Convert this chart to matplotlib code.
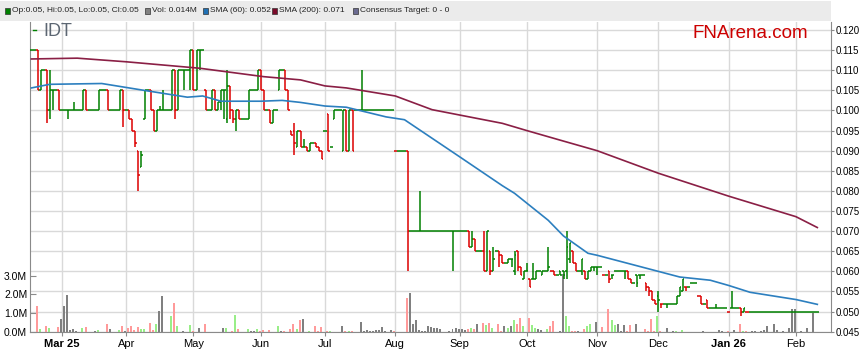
import numpy as np
import pandas as pd
import matplotlib
matplotlib.use("Agg")
import matplotlib.pyplot as plt
import matplotlib.transforms as mtransforms
from matplotlib.collections import LineCollection
from matplotlib.lines import Line2D
from matplotlib.patches import Rectangle
from matplotlib import font_manager

W, H = 859, 363
plt.rcParams['font.family'] = ['Liberation Sans', 'DejaVu Sans']

first_day = "2025-02-17"   # trading days (weekdays) from here

# daily prices in 0.001 units
open_ = [115,115,115,105,110,110,100,105,105,105,
         100,100,100,100,100,100,100,100,105,100,
         100,100,100,105,105,105,100,100,100,100,
         105,100,100,98,95,90,86,98,105,105,
         100,95,100,100,100,100,100,110,100,110,
         110,110,110,115,105,115,115,105,100,100,
         105,100,102,105,98,106,100,98,100,98,
         98,98,105,105,105,110,105,100,100,97,
         100,105,110,110,105,95,95,91,95,91,
         91,90,92,92,91,90,95,99,91,98,
         100,100,90,100,90,100,100,100,100,100,
         100,100,100,100,100,100,100,100,100,90,
         90,90,90,90,70,70,70,70,70,70,
         70,70,70,70,70,70,70,70,70,70,
         70,70,70,70,66,68,65,65,65,60,
         65,60,65,65,64,62,62,63,60,65,
         61,58,60,58,58,58,60,59,60,60,
         60,60,59,60,60,60,63,65,62,60,
         60,60,58,60,61,61,61,59,59,60,
         59,60,60,60,60,60,58,57,59,59,
         59,57,56,55,53,54,52,52,52,52,
         52,52,54,55,56,56,57,57,54,54,
         52,53,51,51,51,51,51,51,50,51,
         51,51,51,50,50,50,50,50,50,50,
         50,50,50,50,50,50,50,50,50,50,
         50,50,50,50,50,50,50,50]
high = [115,115,115,110,110,110,110,105,105,105,
        100,100,100,100,102,100,100,105,105,100,
        100,100,105,105,105,105,100,100,100,105,
        105,100,100,98,95,90,90,105,105,105,
        100,100,101,105,100,100,110,110,110,110,
        110,110,115,115,115,115,115,105,100,105,
        105,102,105,105,110,106,100,100,100,98,
        98,105,105,105,110,110,105,100,100,100,
        100,110,110,110,105,95,97,95,95,93,
        91,92,92,92,91,90,95,99,91,100,
        100,100,100,100,100,100,100,100,110,100,
        100,100,100,100,100,100,100,100,100,90,
        90,90,90,90,70,70,70,80,70,70,
        70,70,70,70,70,70,70,70,70,70,
        70,70,70,70,70,68,65,65,70,70,
        65,66,65,65,64,62,63,63,65,65,
        61,60,62,58,62,60,60,60,60,66,
        60,60,59,60,60,70,67,65,62,60,
        63,60,60,61,61,61,61,59,59,60,
        59,60,60,60,60,60,58,57,59,59,
        59,57,56,55,53,55,52,52,52,52,
        52,54,56,58,56,56,57,57,54,54,
        52,53,51,51,52,51,51,51,50,55,
        51,51,51,51,50,50,50,50,50,50,
        50,50,50,50,50,50,50,50,50,50,
        50,50,50,50,50,50,50,50]
low = [115,115,105,105,110,97,98,100,105,100,
       100,100,98,100,100,100,100,100,100,100,
       100,100,100,105,105,100,100,100,100,100,
       96,100,98,95,91,80,86,98,105,100,
       95,95,100,100,100,100,100,98,100,110,
       105,110,105,105,105,110,115,100,100,100,
       100,100,100,98,97,98,97,95,98,98,
       98,98,105,105,105,105,100,100,97,97,
       100,105,110,105,100,94,89,91,91,91,
       90,90,92,91,90,88,95,90,91,98,
       100,100,90,90,90,90,100,100,100,100,
       100,100,100,100,100,100,100,100,100,90,
       90,90,90,60,70,70,70,70,70,70,
       70,70,70,70,70,70,70,70,60,70,
       70,70,70,66,66,65,65,65,60,60,
       59,60,65,61,62,62,62,61,59,60,
       59,58,60,56,58,58,60,59,60,60,
       60,59,59,59,58,58,62,62,60,60,
       59,58,58,60,60,59,61,59,59,57,
       58,60,60,60,58,58,57,57,56,58,
       59,55,54,53,52,50,51,52,51,52,
       52,52,54,55,55,56,57,57,54,52,
       52,51,51,51,51,51,51,51,50,51,
       51,51,49,50,50,50,50,50,50,50,
       50,50,50,50,50,50,50,50,50,50,
       50,50,50,50,50,50,50,50]
close = [115,115,105,110,110,100,105,105,105,100,
         100,100,100,100,100,100,100,105,100,100,
         100,100,105,105,105,100,100,100,100,105,
         100,100,98,95,92,84,89,105,105,100,
         95,100,100,100,100,100,110,100,110,110,
         110,110,115,105,115,115,115,100,100,105,
         100,102,105,105,106,100,98,100,98,98,
         98,105,105,105,110,105,100,100,97,100,
         100,110,110,105,100,94,92,95,91,91,
         90,92,92,91,90,88,95,90,91,100,
         100,100,100,90,100,90,100,100,100,100,
         100,100,100,100,100,100,100,100,100,90,
         90,90,90,70,70,70,70,70,70,70,
         70,70,70,70,70,70,70,70,70,70,
         70,70,70,66,68,65,65,65,60,70,
         60,63,65,64,62,62,63,63,64,61,
         59,60,60,56,58,60,60,60,60,61,
         60,59,59,59,59,66,67,62,60,60,
         63,58,60,61,61,61,61,59,59,58,
         59,60,60,60,60,58,57,57,57,59,
         59,56,55,53,52,53,52,52,52,52,
         52,54,56,58,56,56,57,57,54,52,
         52,51,51,51,51,51,51,51,50,51,
         51,51,50,51,50,50,50,50,50,50,
         50,50,50,50,50,50,50,50,50,50,
         50,50,50,50,50,50,50,50]
# volume in millions
volume = [0.04,0,1.37,0.17,0,0.32,0.2,0,0,0.28,
          0.7,1.4,1.95,0.1,0.18,0.05,0,0.22,0.27,0,
          0,0.06,0.13,0,0,0.45,0.18,0,0,0.12,
          0.32,0.04,0.2,0.32,0.12,0.27,0.14,0.18,0,0.5,
          0.1,0.45,1.13,1.9,0,0,0.87,1.52,0.34,0,
          0.05,0,0.38,0.05,0,0.2,0,0.45,0,0,
          0,0,0,0.2,0.2,0,0.04,0.93,0.14,0,
          0,0.18,0.04,0.05,0.14,0.04,0.08,0,0.12,0,
          0,0.32,0.04,0.04,0,0.17,0.45,0.17,0.66,0.71,
          0,0.06,0,0.3,0.06,0.27,0,0.06,0.03,0,
          0,0,0.32,0.04,0.05,0.03,0,0,0.55,0.05,
          0.1,0.07,0.05,0.1,0.1,0.28,0.05,0,0.12,0.04,
          0,0,0,1.8,2.1,0.43,0.66,0.1,0.07,0.04,
          0.3,0.28,0.23,0.23,0.15,0,0,0.04,0.15,0.2,
          0.17,0.17,0.1,0.15,0.2,0.15,0.45,0,0.5,0.35,
          0.5,0.2,0,0.45,0.05,0.3,0.2,0.3,0.62,0.4,
          0.75,0.3,0,0.75,0.35,0.2,0.15,0.12,0,0.18,
          0.3,0.6,0,0.05,3.1,0.85,0.3,0.05,0.04,0.04,
          0,0.17,0.3,0.43,0,0.55,0,0.27,0,1.22,
          0.62,0.35,0.43,0.05,0.35,0.05,0.35,0,0.43,0,
          0,0.17,0.05,0.68,0.05,0.85,0.03,0,0.22,0,
          0.03,0.03,0,0.08,0,0,0,0,0,0,
          0.03,0,0,0,0,0.08,0.03,0,0.05,0,
          0.1,0,0.43,0.05,0.03,0,0.03,0.06,0,0.06,
          0.1,0.3,0,0.45,0.08,0,0.06,0,0.2,1.22,
          1.22,0,0.04,0,0.22,0,1.0,0.014]

# moving averages (trading-day index, value)
sma60_day = [0, 6, 23, 36, 51, 56, 62, 75, 82, 88, 96, 103, 116, 122, 131, 140,
             154, 158, 169, 174, 182, 185, 205, 212, 222, 228, 235, 250, 257]
sma60_val = [0.1056, 0.1065, 0.1067, 0.1051, 0.1033, 0.1036, 0.1023, 0.1023, 0.1025,
             0.1020, 0.1011, 0.1008, 0.0984, 0.0977, 0.0931, 0.0885, 0.0813, 0.0794,
             0.0727, 0.0688, 0.0645, 0.0640, 0.0600, 0.0586, 0.0578, 0.0565, 0.0548,
             0.0530, 0.0518]
sma200_day = [0, 15, 31, 55, 76, 88, 96, 103, 119, 131, 154, 162, 173, 185, 205, 228, 250, 257]
sma200_val = [0.1128, 0.1130, 0.1121, 0.1105, 0.1084, 0.1076, 0.1061, 0.1056, 0.1036,
              0.1002, 0.0968, 0.0950, 0.0926, 0.0900, 0.0844, 0.0787, 0.0736, 0.0709]

legend_items = [("Op:0.05, Hi:0.05, Lo:0.05, Cl:0.05", '#008000', 5),
                ("Vol: 0.014M", '#808080', 145),
                ("SMA (60): 0.052", '#1f70b4', 203),
                ("SMA (200): 0.071", '#7a0a2a', 272),
                ("Consensus Target: 0 - 0", '#6a6a90', 353)]

GREEN = '#008000'
RED = '#dd0000'
GRID = '#d9d9d9'
SPINE = '#8a8a8a'

o = np.array(open_) / 1000.0
h = np.array(high) / 1000.0
l = np.array(low) / 1000.0
c = np.array(close) / 1000.0
v = np.array(volume)
dates = pd.bdate_range(first_day, periods=len(c))
x = np.arange(len(c))

fig = plt.figure(figsize=(W / 100, H / 100), dpi=100)
ax_vol = fig.add_axes([30 / W, 31 / H, 801 / W, 310 / H])
ax_p = ax_vol.twinx()

ax_p.set_ylim(0.04493, 0.12199)
ax_vol.set_ylim(0, 16.49)
ax_vol.set_xlim(-0.46, 261.47)

# horizontal grid (price levels) drawn behind the volume bars
price_ticks = np.arange(0.045, 0.1201, 0.005)
gtrans = mtransforms.blended_transform_factory(ax_vol.transAxes, ax_p.transData)
for y in price_ticks:
    ax_vol.plot([0, 1], [y, y], transform=gtrans, color=GRID, lw=1, zorder=0.5)

# month ticks
month_pos, month_lab, month_bold = [], [], []
for i in range(1, len(dates)):
    if dates[i].month != dates[i - 1].month:
        month_pos.append(i)
        if dates[i].month == 1 or not month_lab:
            month_lab.append(dates[i].strftime('%b %y'))
            month_bold.append(True)
        else:
            month_lab.append(dates[i].strftime('%b'))
            month_bold.append(False)
ax_vol.set_xticks(month_pos)
ax_vol.set_xticklabels(month_lab, fontsize=8)
for t, b in zip(ax_vol.get_xticklabels(), month_bold):
    if b:
        t.set_fontweight('bold')
ax_vol.grid(axis='x', color=GRID, lw=1, zorder=0.5)
ax_vol.set_axisbelow(True)

# volume bars
prev = np.concatenate([[c[0]], c[:-1]])
vcol = np.where(c > prev, '#99ee88', np.where(c < prev, '#ff9a9a', '#808080'))
ax_vol.bar(x - 0.3, v, width=0.65, color=vcol, zorder=2)

ax_vol.set_yticks([0, 1, 2, 3])
ax_vol.set_yticklabels(['0.0M', '1.0M', '2.0M', '3.0M'], fontsize=7.5)
ax_vol.tick_params(axis='y', direction='in', length=4, color=SPINE, pad=2)
ax_vol.tick_params(axis='x', direction='out', length=3, color=SPINE, pad=2)
for s in ['left', 'bottom', 'right']:
    ax_vol.spines[s].set_color(SPINE)
ax_vol.spines['top'].set_visible(False)

# OHLC bars
segs, cols = [], []
for i in x:
    col = RED if c[i] < prev[i] else GREEN
    segs.append([(i, l[i]), (i, h[i])])
    segs.append([(i - 0.5, o[i]), (i, o[i])])
    segs.append([(i, c[i]), (i + 0.5, c[i])])
    cols += [col] * 3
ax_p.add_collection(LineCollection(segs, colors=cols, linewidths=1.1, zorder=3,
                                   capstyle='butt'))

ax_p.plot(sma200_day, sma200_val, color='#8a1f45', lw=1.2, zorder=4)
ax_p.plot(sma60_day, sma60_val, color='#2c7fbf', lw=1.2, zorder=4)

ax_p.set_yticks(price_ticks)
ax_p.set_yticklabels(['%.3f' % t for t in price_ticks], fontsize=7)
ax_p.tick_params(axis='y', direction='out', length=2.5, color=SPINE, pad=0.5)
for s in ax_p.spines.values():
    s.set_visible(False)

# header strip with legend
fig.add_artist(Rectangle((0, 1 - 21 / H), 831 / W, 20 / H, transform=fig.transFigure,
                         facecolor='#ebebeb', edgecolor='none'))
try:
    font_manager.findfont('Liberation Sans Narrow', fallback_to_default=False)
    leg_font, leg_size = 'Liberation Sans Narrow', 6.9
except Exception:
    leg_font, leg_size = 'Liberation Sans', 6.0
for txt, col, px in legend_items:
    fig.add_artist(Rectangle((px / W, 1 - 14 / H), 5 / W, 6 / H, transform=fig.transFigure,
                             facecolor=col, edgecolor='#333333', lw=0.5))
    fig.text((px + 7) / W, 1 - 11 / H, txt, fontsize=leg_size, family=leg_font,
             va='center', ha='left', color='#222222')

fig.add_artist(Line2D([33 / W, 36 / W], [1 - 30 / H] * 2, color=GREEN, lw=1))
fig.text(43 / W, 1 - 32 / H, 'IDT', fontsize=13, color='#5c6672', va='center', ha='left')
fig.text(750 / W, 1 - 33 / H, 'FNArena.com', fontsize=13.5, color='#cc0000',
         va='center', ha='center')

fig.savefig('out.png', dpi=100)
